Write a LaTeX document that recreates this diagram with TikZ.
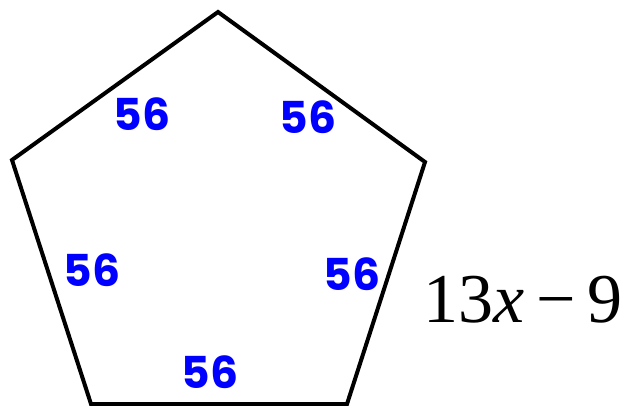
\documentclass[tikz,border=0pt]{standalone}
\usepackage{fontspec}
\setmainfont{Liberation Serif}
\newfontfamily\hand{Poppins}
\begin{document}
\begin{tikzpicture}[x=1pt,y=-1pt,
  edge/.style={line width=4pt,line join=miter},
  lab/.style={text=blue,font=\hand\bfseries\fontsize{44}{50}\selectfont,inner sep=0pt},
  expr/.style={font=\fontsize{70}{84}\selectfont,inner sep=0pt}]
\useasboundingbox (0,0) rectangle (628,406);
\coordinate (T) at (218,12);
\coordinate (UL) at (12,160);
\coordinate (UR) at (425,162);
\coordinate (LL) at (91,404);
\coordinate (LR) at (347,404);
\draw[edge] (T) -- (UR) -- (LR) -- (LL) -- (UL) -- cycle;
\node[lab] (a) at (142,114) {56};
\node[lab] (b) at (308,117) {56};
\node[lab] (c) at (92,270) {56};
\node[lab] (d) at (352,274) {56};
\node[lab] (e) at (210,372) {56};
\node[expr,anchor=base west] (f) at (423,322) {13\textit{x}\kern0.17em−\kern0.17em9};
\end{tikzpicture}
\end{document}
